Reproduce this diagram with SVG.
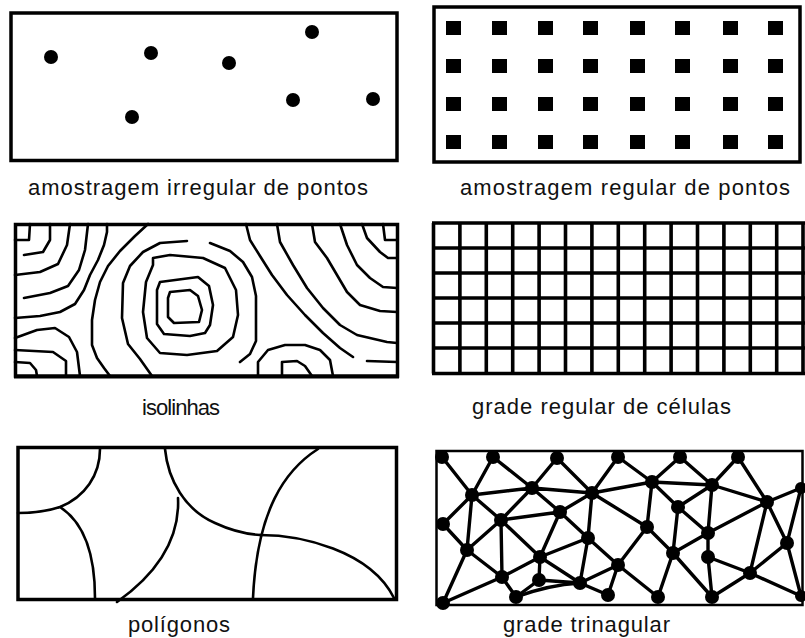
<svg xmlns="http://www.w3.org/2000/svg" width="805" height="638" viewBox="0 0 805 638">
<style>
.frame{fill:none;stroke:#000;stroke-width:3.5}
.ln{fill:none;stroke:#000;stroke-width:2.6;stroke-linejoin:round;stroke-linecap:round}
.grid{fill:none;stroke:#000;stroke-width:3.6}
.edge{fill:none;stroke:#000;stroke-width:3.4;stroke-linecap:round}
.lbl{font-family:"Liberation Sans","Arial",sans-serif;font-size:22px;fill:#111}
</style>
<rect width="805" height="638" fill="#fff"/>

<g id="irregular">
<rect class="frame" x="11" y="13" width="386" height="147.5"/>
<g fill="#000">
<circle cx="51" cy="57" r="7"/>
<circle cx="151" cy="53" r="7"/>
<circle cx="229" cy="63" r="7"/>
<circle cx="312" cy="32" r="7"/>
<circle cx="132" cy="117" r="7"/>
<circle cx="293" cy="100" r="7"/>
<circle cx="373" cy="99" r="7"/>
</g>
<text class="lbl" x="28" y="195" textLength="340" lengthAdjust="spacing">amostragem irregular de pontos</text>
</g>

<g id="regular">
<rect class="frame" x="434" y="7" width="366" height="155"/>
<g fill="#000">
<rect x="446" y="21" width="15" height="14"/><rect x="492" y="21" width="15" height="14"/><rect x="538" y="21" width="15" height="14"/><rect x="583" y="21" width="15" height="14"/><rect x="630" y="21" width="15" height="14"/><rect x="675" y="21" width="15" height="14"/><rect x="723" y="21" width="15" height="14"/><rect x="768" y="21" width="15" height="14"/>
<rect x="446" y="59" width="15" height="14"/><rect x="492" y="59" width="15" height="14"/><rect x="538" y="59" width="15" height="14"/><rect x="583" y="59" width="15" height="14"/><rect x="630" y="59" width="15" height="14"/><rect x="675" y="59" width="15" height="14"/><rect x="723" y="59" width="15" height="14"/><rect x="768" y="59" width="15" height="14"/>
<rect x="446" y="97" width="15" height="14"/><rect x="492" y="97" width="15" height="14"/><rect x="538" y="97" width="15" height="14"/><rect x="583" y="97" width="15" height="14"/><rect x="630" y="97" width="15" height="14"/><rect x="675" y="97" width="15" height="14"/><rect x="723" y="97" width="15" height="14"/><rect x="768" y="97" width="15" height="14"/>
<rect x="446" y="135" width="15" height="14"/><rect x="492" y="135" width="15" height="14"/><rect x="538" y="135" width="15" height="14"/><rect x="583" y="135" width="15" height="14"/><rect x="630" y="135" width="15" height="14"/><rect x="675" y="135" width="15" height="14"/><rect x="723" y="135" width="15" height="14"/><rect x="768" y="135" width="15" height="14"/>
</g>
<text class="lbl" x="460" y="195" textLength="330" lengthAdjust="spacing">amostragem regular de pontos</text>
</g>

<g id="isolinhas">
<rect class="frame" x="15.5" y="224.5" width="382" height="151.5"/>
<line x1="14" y1="377" x2="399" y2="377" stroke="#000" stroke-width="3"/>
<path class="ln" d="M15,240 L29,240 L30,224"/>
<path class="ln" d="M24,255 L43,252 L50,240 L50,224"/>
<path class="ln" d="M15,275 L40,272 L58,264 L67,245 L70,224"/>
<path class="ln" d="M24,298 L50,293 L68,286 L79,270 L85,250 L88,224"/>
<path class="ln" d="M15,318 L40,316 L60,312 L75,304 L84,290 L90,275 L98,260 L104,245 L107,232 L107,224"/>
<path class="ln" d="M148,224 L135,236 L120,251 L108,266 L100,282 L95,300 L92,320 L92,345 L97,358 L104,368 L110,376"/>
<path class="ln" d="M15,362 L30,363 L36,370 L37,376"/>
<path class="ln" d="M15,350 L53,352 L66,361 L66,376"/>
<path class="ln" d="M15,338 L37,330 L55,328 L69,337 L77,352 L80,376"/>
<path class="ln" d="M170,292 L190,290 L198,296 L202,310 L199,322 L174,323 L168,317 L168,298 Z"/>
<path class="ln" d="M160,282 L198,277 L209,286 L213,305 L210,325 L205,333 L190,336 L164,334 L157,324 L157,290 Z"/>
<path class="ln" d="M153,258 L170,255 L203,258 L225,268 L236,290 L238,315 L233,337 L217,351 L187,355 L160,353 L147,338 L143,312 L146,282 L153,265 Z"/>
<path class="ln" d="M152,376 L140,359 L128,344 L122,318 L123,283 L130,266 L143,252 L160,243 L187,241"/>
<path class="ln" d="M210,243 L230,251 L243,262 L252,277 L256,296 L256,341 L250,354 L240,362"/>
<path class="ln" d="M246,224 L250,240 L260,256 L272,275 L287,295 L305,315 L323,333 L340,348 L353,357"/>
<path class="ln" d="M367,361 L397,362"/>
<path class="ln" d="M277,224 L280,242 L293,265 L307,288 L323,308 L340,325 L357,335 L387,342 L397,343"/>
<path class="ln" d="M312,224 L315,242 L327,258 L337,275 L347,292 L360,305 L380,311 L397,312"/>
<path class="ln" d="M340,224 L347,245 L357,265 L370,278 L383,287 L397,288"/>
<path class="ln" d="M362,224 L367,238 L380,252 L388,258 L397,258"/>
<path class="ln" d="M383,224 L385,240 L397,240"/>
<path class="ln" d="M258,376 L258,362 L268,350 L285,345 L305,345 L320,350 L330,360 L333,376"/>
<path class="ln" d="M282,376 L282,362 L297,361 L305,366 L312,376"/>
<text class="lbl" x="142" y="415" textLength="78" lengthAdjust="spacing">isolinhas</text>
</g>

<g id="grade-celulas">
<path class="grid" d="M433.5,223V373.5 M459.9,223V373.5 M486.3,223V373.5 M512.7,223V373.5 M539.1,223V373.5 M565.5,223V373.5 M591.9,223V373.5 M618.3,223V373.5 M644.7,223V373.5 M671.1,223V373.5 M697.5,223V373.5 M723.9,223V373.5 M750.3,223V373.5 M776.7,223V373.5 M803,223V373.5
M432,223H805 M432,248H805 M432,273H805 M432,298H805 M432,323H805 M432,348H805 M432,373.5H805"/>
<text class="lbl" x="472" y="414" textLength="259" lengthAdjust="spacing">grade regular de células</text>
</g>

<g id="poligonos">
<rect class="frame" x="18" y="447.5" width="378.5" height="152"/>
<path class="ln" d="M100,449 C100,475 85,497 60,507 C45,512 30,513 18,513"/>
<path class="ln" d="M60,507 C80,520 95,545 95,598"/>
<path class="ln" d="M165,449 C168,480 185,510 215,523 C230,530 245,534 260,535"/>
<path class="ln" d="M178,498 C180,540 155,575 117,602"/>
<path class="ln" d="M318,449 C285,470 257,510 253,598"/>
<path class="ln" d="M260,535 C300,535 370,550 394,598"/>
<text class="lbl" x="128" y="632" textLength="102" lengthAdjust="spacing">polígonos</text>
</g>

<g id="grade-triangular">
<rect x="436.5" y="451" width="366" height="154" fill="none" stroke="#000" stroke-width="2.5"/>
<g id="connectors" class="edge">
<path d="M442,457L472,495 M493,457L472,495 M493,457L532,488 M557,458L532,488 M557,458L592,493 M618,457L592,493 M618,457L652,482 M680,457L652,482 M680,457L712,485 M738,457L712,485 M738,457L767,502 M767,502L801,488
M472,495L532,488 M532,488L592,493 M592,493L652,482 M652,482L712,485 M712,485L767,502
M472,495L443,524 M472,495L501,520 M472,495L467,550 M532,488L501,520 M532,488L560,512 M501,520L560,512 M560,512L592,493 M501,520L467,550 M443,524L467,550 M501,520L540,557 M501,520L502,577 M560,512L540,557 M560,512L588,538 M592,493L588,538 M588,538L540,557 M592,493L647,527 M652,482L647,527 M652,482L678,507 M712,485L678,507 M712,485L708,533 M767,502L708,533 M767,502L787,543 M767,502L750,573 M801,488L787,543
M678,507L708,533 M678,507L673,553 M647,527L673,553 M647,527L618,565 M588,538L618,565 M708,533L708,557 M708,533L673,553 M787,543L750,573 M787,543L801,596
M708,557L750,573 M708,557L712,597 M673,553L712,597 M673,553L658,597 M618,565L658,597 M618,565L608,595 M588,538L580,583 M618,565L580,583 M540,557L580,583 M540,557L539,580 M540,557L502,577
M467,550L502,577 M467,550L443,603 M502,577L443,603 M502,577L516,597 M539,580L516,597 M539,580L580,583 M580,583L608,595 M750,573L712,597 M750,573L801,596"/>
<path d="M516,597 Q548,585 580,583"/>
</g>
<g fill="#000">
<circle cx="442" cy="457" r="7"/><circle cx="493" cy="457" r="7"/><circle cx="557" cy="458" r="7"/><circle cx="618" cy="457" r="7"/><circle cx="680" cy="457" r="7"/><circle cx="738" cy="457" r="7"/>
<circle cx="472" cy="495" r="7"/><circle cx="532" cy="488" r="7"/><circle cx="592" cy="493" r="7"/><circle cx="652" cy="482" r="7"/><circle cx="712" cy="485" r="7"/><circle cx="767" cy="502" r="7"/><circle cx="801" cy="488" r="6"/>
<circle cx="443" cy="524" r="7"/><circle cx="501" cy="520" r="7"/><circle cx="560" cy="512" r="7"/><circle cx="678" cy="507" r="7"/><circle cx="647" cy="527" r="7"/><circle cx="708" cy="533" r="7"/><circle cx="787" cy="543" r="7"/>
<circle cx="467" cy="550" r="7"/><circle cx="540" cy="557" r="7"/><circle cx="588" cy="538" r="7"/><circle cx="618" cy="565" r="7"/><circle cx="673" cy="553" r="7"/><circle cx="708" cy="557" r="7"/>
<circle cx="502" cy="577" r="7"/><circle cx="539" cy="580" r="7"/><circle cx="580" cy="583" r="7"/><circle cx="750" cy="573" r="7"/>
<circle cx="443" cy="603" r="7"/><circle cx="516" cy="597" r="7"/><circle cx="608" cy="595" r="7"/><circle cx="658" cy="597" r="7"/><circle cx="712" cy="597" r="7"/><circle cx="801" cy="596" r="6"/>
</g>
<text class="lbl" x="503" y="632" textLength="167" lengthAdjust="spacing">grade trinagular</text>
</g>
</svg>
